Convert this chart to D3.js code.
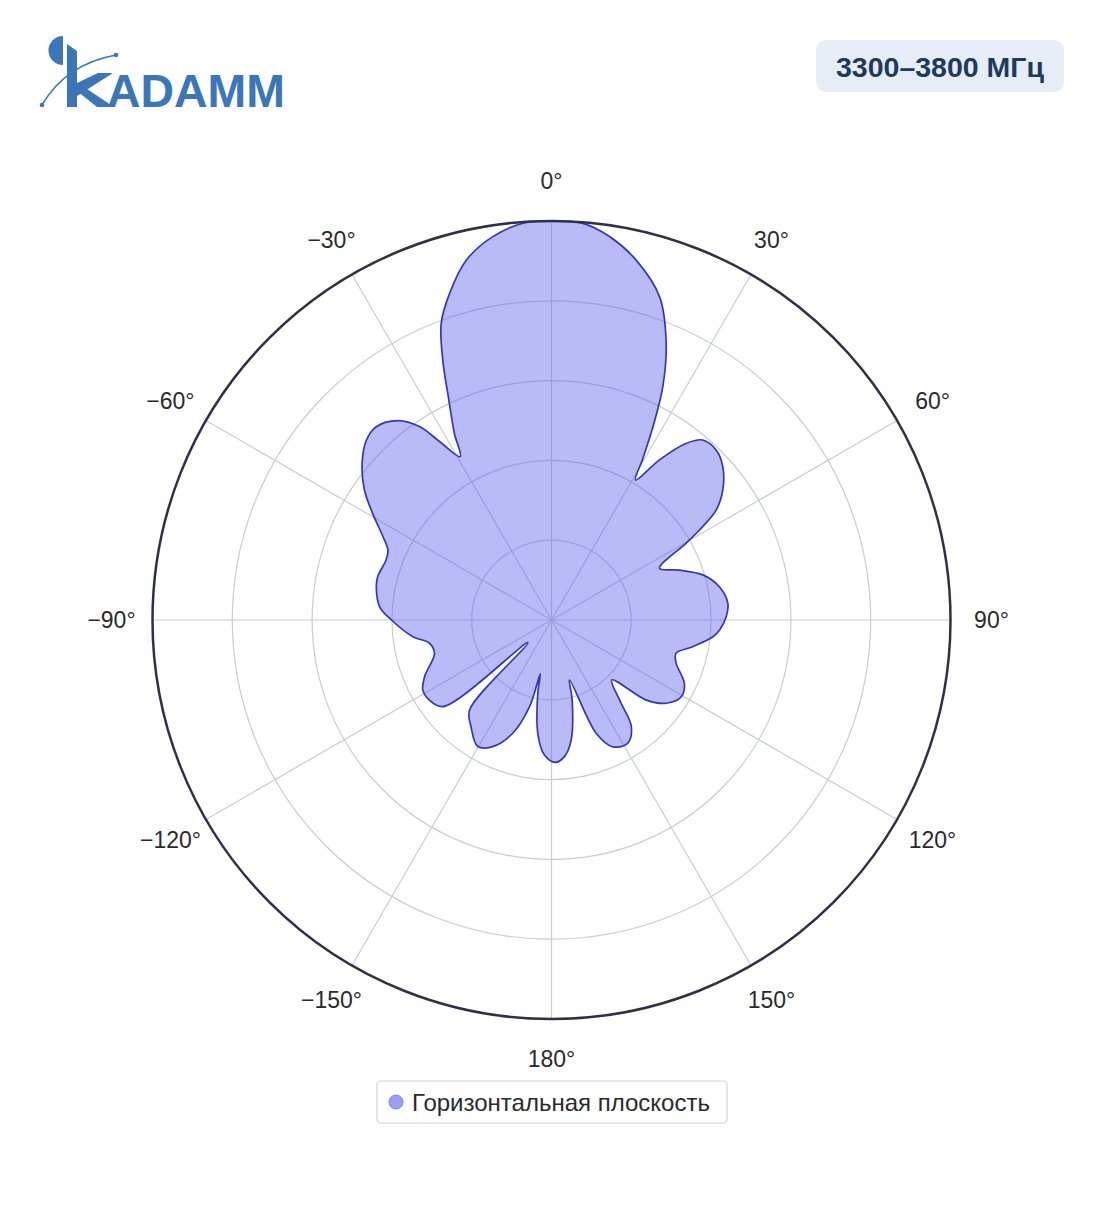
<!DOCTYPE html>
<html>
<head>
<meta charset="utf-8">
<script src="https://cdn.jsdelivr.net/npm/d3@7"></script>
<style>
  html, body { margin: 0; padding: 0; background: #fff; }
  svg { display: block; font-family: "Liberation Sans", Arial, sans-serif; }
</style>
</head>
<body>
<svg id="chart" width="1104" height="1211"></svg>
<script>
// ---- data ----
const title = "3300–3800 МГц";
const seriesName = "Горизонтальная плоскость";
const angleTicks = [0, 30, 60, 90, 120, 150, 180, -150, -120, -90, -60, -30];
const angleTickLabels = ["0°", "30°", "60°", "90°", "120°", "150°", "180°", "−150°", "−120°", "−90°", "−60°", "−30°"];
const radialTicks = [0.2, 0.4, 0.6, 0.8, 1.0];
// azimuth (deg, clockwise from 0°) and relative level (0..1)
const angles = [
  -177.0, -173.1, -169.4, -168.2, -165.8, -161.1, -155.1, -149.8, -143.0, -137.7,
  -133.8, -128.6, -123.3, -118.5, -114.0, -105.9, -100.8, -96.9, -90.0, -85.6,
  -79.2, -76.0, -70.0, -66.8, -63.7, -59.2, -55.2, -50.4, -45.8, -42.2,
  -37.6, -34.3, -32.1, -29.2, -27.5, -25.0, -22.7, -20.4, -17.3, -13.3,
  -8.7, -4.1, 0.0, 4.5, 8.6, 13.2, 18.5, 22.5, 25.5, 27.7,
  29.5, 31.0, 34.0, 37.3, 40.0, 44.1, 48.2, 52.8, 56.3, 58.7,
  60.3, 64.4, 68.7, 73.4, 78.8, 84.6, 88.9, 93.4, 95.9, 100.7,
  105.0, 109.2, 115.5, 120.6, 126.0, 130.2, 134.8, 139.6, 143.2, 148.2,
  154.2, 158.5, 163.3, 165.5, 170.7, 174.6, 178.4
];
const levels = [
  0.339, 0.286, 0.187, 0.138, 0.224, 0.300, 0.350, 0.367, 0.335, 0.305,
  0.082, 0.348, 0.366, 0.367, 0.348, 0.305, 0.311, 0.350, 0.401, 0.432,
  0.447, 0.449, 0.441, 0.446, 0.471, 0.522, 0.571, 0.616, 0.647, 0.654,
  0.631, 0.587, 0.528, 0.469, 0.527, 0.609, 0.706, 0.793, 0.858, 0.927,
  0.972, 0.997, 1.000, 0.997, 0.972, 0.927, 0.854, 0.751, 0.648, 0.547,
  0.465, 0.409, 0.484, 0.556, 0.589, 0.593, 0.576, 0.539, 0.496, 0.434,
  0.388, 0.300, 0.344, 0.396, 0.429, 0.444, 0.438, 0.422, 0.407, 0.360,
  0.323, 0.331, 0.369, 0.378, 0.355, 0.311, 0.213, 0.263, 0.334, 0.363,
  0.353, 0.305, 0.157, 0.207, 0.305, 0.344, 0.357
];

// ---- layout ----
const svg = d3.select("#chart");
const cx = 551.5, cy = 620, R = 399;
const rScale = d3.scaleLinear().domain([0, 1]).range([0, R]);
const aScale = d3.scaleLinear().domain([0, 360]).range([0, 2 * Math.PI]);

// logo
const logo = svg.append("g").attr("fill", "#3b76b8");
logo.append("path").attr("d", "M63,36 A14.5,14.5 0 0 0 63,65 Z");
logo.append("path").attr("d", "M67,44 L77,51 L77,107 L67,107 Z");
logo.append("path").attr("d", "M77,83 L98,73 L113,73 L77,96 Z");
logo.append("path").attr("d", "M77,91 L84,87 L114,107 L97,107 Z");
logo.append("path").attr("d", "M42,105 Q66,64 116,55").attr("fill", "none")
  .attr("stroke", "#3b76b8").attr("stroke-width", 1.5);
logo.append("circle").attr("cx", 42).attr("cy", 105).attr("r", 2.3);
logo.append("circle").attr("cx", 116).attr("cy", 55).attr("r", 2.3);
logo.append("text").attr("x", 107).attr("y", 106.5)
  .attr("font-size", 47).attr("font-weight", 900)
  .attr("textLength", 178).attr("lengthAdjust", "spacingAndGlyphs")
  .text("ADAMM");

// title badge
svg.append("rect").attr("x", 816).attr("y", 40).attr("width", 248).attr("height", 52)
  .attr("rx", 10).attr("fill", "#e6edf6");
svg.append("text").attr("x", 940).attr("y", 67).attr("text-anchor", "middle")
  .attr("dominant-baseline", "central").attr("font-size", 28.5).attr("font-weight", "bold")
  .attr("fill", "#1e3a5f").text(title);

// polar plot
const g = svg.append("g").attr("transform", `translate(${cx},${cy})`);

// grid circles
g.selectAll("circle.grid").data(radialTicks.filter(d => d < 1)).join("circle")
  .attr("class", "grid").attr("r", d => rScale(d))
  .attr("fill", "none").attr("stroke", "#c9cbd8").attr("stroke-width", 1.2);

// spokes
g.selectAll("line.spoke").data(angleTicks).join("line")
  .attr("class", "spoke")
  .attr("x1", 0).attr("y1", 0)
  .attr("x2", d => R * Math.sin(aScale(d)))
  .attr("y2", d => -R * Math.cos(aScale(d)))
  .attr("stroke", "#c9cbd8").attr("stroke-width", 1.2);

// data
const pts = angles.map((a, i) => ({ a: a, v: levels[i] }));
const line = d3.lineRadial()
  .angle(d => aScale(d.a))
  .radius(d => rScale(d.v))
  .curve(d3.curveCatmullRomClosed.alpha(0.5));
g.append("path").datum(pts)
  .attr("d", line)
  .attr("fill", "rgba(99,102,235,0.45)")
  .attr("stroke", "#3535bb").attr("stroke-width", 1.7)
  .attr("stroke-linejoin", "round");

// outer circle
g.append("circle").attr("r", R).attr("fill", "none")
  .attr("stroke", "#2d3148").attr("stroke-width", 2.5);

// angular labels
g.selectAll("text.alab").data(angleTicks).join("text")
  .attr("class", "alab")
  .attr("x", d => 440 * Math.sin(aScale(d)))
  .attr("y", d => -439 * Math.cos(aScale(d)))
  .attr("text-anchor", "middle").attr("dominant-baseline", "central")
  .attr("font-size", 23).attr("fill", "#2a2a2a")
  .text((d, i) => angleTickLabels[i]);

// legend
svg.append("rect").attr("x", 377).attr("y", 1081).attr("width", 350).attr("height", 42)
  .attr("rx", 4).attr("fill", "#fff").attr("stroke", "#d2d2d8").attr("stroke-width", 1.2);
svg.append("circle").attr("cx", 396).attr("cy", 1102).attr("r", 7)
  .attr("fill", "#9d9ef2").attr("stroke", "#7f80e6").attr("stroke-width", 1);
svg.append("text").attr("x", 412).attr("y", 1102).attr("dominant-baseline", "central")
  .attr("font-size", 24).attr("fill", "#2a2a2a").text(seriesName);
</script>
</body>
</html>
